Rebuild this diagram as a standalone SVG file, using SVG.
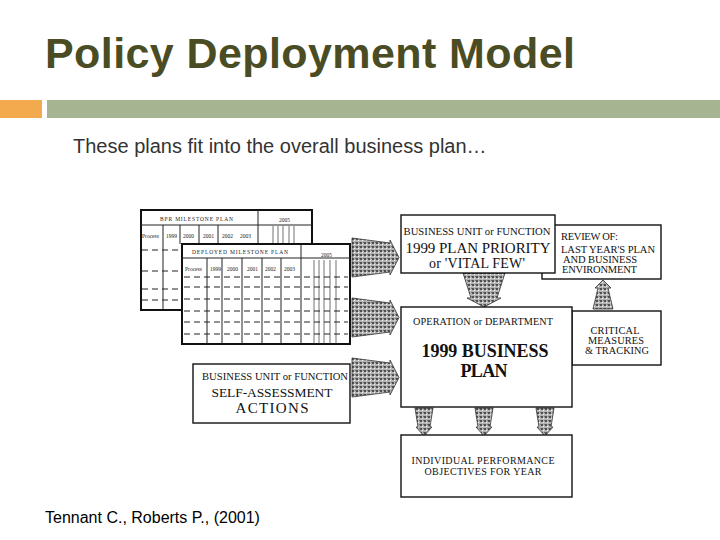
<svg xmlns="http://www.w3.org/2000/svg" width="720" height="540" viewBox="0 0 720 540">
<defs>
<style>
.title{font-family:"Liberation Sans",Arial,sans-serif;font-weight:bold;font-size:43px;fill:#4a4c24}
.sub{font-family:"Liberation Sans",Arial,sans-serif;font-size:20px;fill:#333}
.foot{font-family:"Liberation Sans",Arial,sans-serif;font-size:16px;fill:#000}
.box{fill:#fff;stroke:#111;stroke-width:1.4}
.tbl{fill:#fff;stroke:#111;stroke-width:2}
.ln{stroke:#222;stroke-width:1;fill:none}
.thin{stroke:#333;stroke-width:0.7;fill:none}
.dash{stroke:#222;stroke-width:1;stroke-dasharray:6 4;fill:none}
.s{font-family:"Liberation Serif","Times New Roman",serif;fill:#111;text-anchor:middle}
.sl{font-family:"Liberation Serif","Times New Roman",serif;fill:#111}
.tiny{font-family:"Liberation Serif","Times New Roman",serif;font-size:5.5px;fill:#222}
.arr{fill:url(#ht);stroke:#333;stroke-width:0.8}
</style>
<pattern id="ht" width="4" height="4" patternUnits="userSpaceOnUse">
<rect width="4" height="4" fill="#b4b4b4"/>
<rect x="0" y="0" width="2" height="2" fill="#505050"/>
<rect x="2" y="2" width="1" height="1" fill="#f4f4f4"/>
<rect x="3" y="0" width="1" height="1" fill="#777"/>
</pattern>
<path id="rarr" d="M0,0 L38,5 L38,2 L47,19.5 L38,37 L38,34 L0,39 Z"/>
<path id="darr" d="M-9,0 L9,0 L6,19 L8,19 L0,28 L-8,19 L-6,19 Z"/>
</defs>
<rect width="720" height="540" fill="#fff"/>
<text class="title" x="45" y="68" textLength="530">Policy Deployment Model</text>
<rect x="0" y="100" width="42" height="18" fill="#f3a94d"/>
<rect x="47" y="100" width="673" height="18" fill="#a5b592"/>
<text class="sub" x="73" y="153">These plans fit into the overall business plan…</text>
<text class="foot" x="45" y="523">Tennant C., Roberts P., (2001)</text>

<g id="bpr-milestone-plan">
<rect class="tbl" x="141" y="210" width="171" height="100"/>
<line class="ln" x1="141" y1="225" x2="312" y2="225"/>
<line class="ln" x1="258" y1="210" x2="258" y2="244"/>
<line class="ln" x1="163" y1="225" x2="163" y2="310"/>
<line class="ln" x1="180" y1="225" x2="180" y2="244"/>
<line class="ln" x1="199" y1="225" x2="199" y2="244"/>
<line class="ln" x1="218" y1="225" x2="218" y2="244"/>
<line class="thin" x1="273" y1="226" x2="273" y2="244"/>
<line class="thin" x1="278" y1="226" x2="278" y2="244"/>
<line class="thin" x1="283" y1="226" x2="283" y2="244"/>
<line class="thin" x1="289" y1="226" x2="289" y2="244"/>
<line class="thin" x1="294" y1="226" x2="294" y2="244"/>
<line class="dash" x1="142" y1="250" x2="182" y2="250"/>
<line class="dash" x1="142" y1="271" x2="182" y2="271"/>
<line class="dash" x1="142" y1="289" x2="182" y2="289"/>
<line class="dash" x1="142" y1="300" x2="182" y2="300"/>
<text class="tiny" x="160" y="221" textLength="73">BPR MILESTONE PLAN</text>
<text class="tiny" x="279" y="222">2005</text>
<text class="tiny" x="142" y="238">Process</text>
<text class="tiny" x="166" y="238">1999</text>
<text class="tiny" x="183" y="238">2000</text>
<text class="tiny" x="203" y="238">2001</text>
<text class="tiny" x="222" y="238">2002</text>
<text class="tiny" x="240" y="238">2003</text>
</g>

<g id="deployed-milestone-plan">
<rect class="tbl" x="182" y="244" width="168" height="100"/>
<line class="ln" x1="182" y1="258" x2="350" y2="258"/>
<line class="ln" x1="301" y1="244" x2="301" y2="344" stroke-width="1.5"/>
<line class="ln" x1="207" y1="258" x2="207" y2="344"/>
<line class="ln" x1="222" y1="258" x2="222" y2="344"/>
<line class="ln" x1="242" y1="258" x2="242" y2="344"/>
<line class="ln" x1="262" y1="258" x2="262" y2="344"/>
<line class="ln" x1="281" y1="258" x2="281" y2="344"/>
<line class="thin" x1="314" y1="260" x2="314" y2="344"/>
<line class="thin" x1="319" y1="260" x2="319" y2="344"/>
<line class="thin" x1="324" y1="260" x2="324" y2="344"/>
<line class="thin" x1="330" y1="260" x2="330" y2="344"/>
<line class="thin" x1="336" y1="260" x2="336" y2="344"/>
<line class="dash" x1="184" y1="277" x2="348" y2="277"/>
<line class="dash" x1="184" y1="287" x2="348" y2="287"/>
<line class="dash" x1="184" y1="299" x2="348" y2="299"/>
<line class="dash" x1="184" y1="311" x2="348" y2="311"/>
<line class="dash" x1="184" y1="322" x2="348" y2="322"/>
<line class="dash" x1="184" y1="334" x2="348" y2="334"/>
<text class="tiny" x="192" y="254" textLength="96">DEPLOYED MILESTONE PLAN</text>
<text class="tiny" x="321" y="257">2005</text>
<text class="tiny" x="185" y="271">Process</text>
<text class="tiny" x="210" y="271">1999</text>
<text class="tiny" x="227" y="271">2000</text>
<text class="tiny" x="247" y="271">2001</text>
<text class="tiny" x="265" y="271">2002</text>
<text class="tiny" x="284" y="271">2003</text>
</g>

<g id="connectors">
<use href="#rarr" class="arr" transform="translate(352,238)"/>
<use href="#rarr" class="arr" transform="translate(352,298)"/>
<use href="#rarr" class="arr" transform="translate(352,358)"/>
<path class="arr" d="M463,273 L505,273 L497,298 L501,298 L484,307 L467,298 L471,298 Z"/>
<path class="arr" d="M603,280 L611,288 L608,288 L613,309 L593,309 L598,288 L595,288 Z"/>
<use href="#darr" class="arr" transform="translate(424,408)"/>
<use href="#darr" class="arr" transform="translate(484,408)"/>
<use href="#darr" class="arr" transform="translate(545,408)"/>
</g>

<g id="review">
<rect class="box" x="542" y="225" width="119" height="54"/>
<text class="sl" x="561" y="240" font-size="10.5" textLength="57">REVIEW OF:</text>
<text class="sl" x="561" y="253" font-size="10.5" textLength="94">LAST YEAR'S PLAN</text>
<text class="sl" x="563" y="263" font-size="10.5" textLength="74">AND BUSINESS</text>
<text class="sl" x="562" y="273" font-size="10.5" textLength="75">ENVIRONMENT</text>
</g>

<g id="business-unit-priority">
<rect class="box" x="401" y="215" width="154" height="58"/>
<text class="s" x="477" y="235" font-size="10.7" textLength="147">BUSINESS UNIT or FUNCTION</text>
<text class="s" x="478" y="253" font-size="15" textLength="145">1999 PLAN PRIORITY</text>
<text class="s" x="477" y="268" font-size="14" textLength="96">or 'VITAL FEW'</text>
</g>

<g id="critical-measures">
<rect class="box" x="572" y="311" width="89" height="54"/>
<text class="s" x="615" y="334" font-size="10.3" textLength="49">CRITICAL</text>
<text class="s" x="616" y="344" font-size="10.3" textLength="56">MEASURES</text>
<text class="s" x="617" y="354" font-size="10.3" textLength="64">&amp; TRACKING</text>
</g>

<g id="business-plan">
<rect class="box" x="401" y="307" width="171" height="100"/>
<text class="s" x="483" y="325" font-size="10.2" textLength="140">OPERATION or DEPARTMENT</text>
<text class="s" x="485" y="357" font-size="18" font-weight="bold" textLength="127">1999 BUSINESS</text>
<text class="s" x="484" y="377" font-size="18" font-weight="bold" textLength="47">PLAN</text>
</g>

<g id="self-assessment">
<rect class="box" x="193" y="364" width="157" height="59"/>
<text class="s" x="275" y="380" font-size="10.6" textLength="146">BUSINESS UNIT or FUNCTION</text>
<text class="s" x="272" y="397" font-size="13.5" textLength="121">SELF-ASSESSMENT</text>
<text class="s" x="272" y="413" font-size="15" textLength="73">ACTIONS</text>
</g>

<g id="individual-performance">
<rect class="box" x="401" y="435" width="171" height="62"/>
<text class="s" x="483" y="464" font-size="10" textLength="143">INDIVIDUAL PERFORMANCE</text>
<text class="s" x="483" y="475" font-size="10" textLength="117">OBJECTIVES FOR YEAR</text>
</g>
</svg>
